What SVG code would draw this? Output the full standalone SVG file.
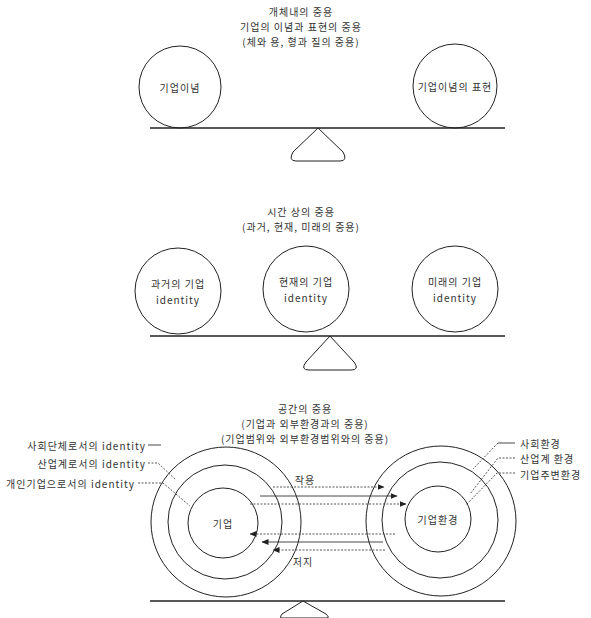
<svg xmlns="http://www.w3.org/2000/svg" width="591" height="618" viewBox="0 0 591 618">
<defs>
<style>
text{font-family:"Noto Sans CJK KR","Noto Sans",sans-serif;font-size:10px;letter-spacing:1px;fill:#333;text-anchor:middle;dominant-baseline:central}
.s{text-anchor:start}.e{text-anchor:end}
.c{fill:none;stroke:#222;stroke-width:1}
.b{stroke:#222;stroke-width:1.6;fill:none}
.f{fill:none;stroke:#222;stroke-width:1}
.d{stroke:#444;stroke-width:0.9;stroke-dasharray:2 1.5;fill:none}
.l{stroke:#333;stroke-width:0.9;fill:none}
</style>
<marker id="ah" markerWidth="7" markerHeight="6" refX="6.5" refY="3" orient="auto" markerUnits="userSpaceOnUse"><path d="M0,0 L7,3 L0,6 Z" fill="#222"/></marker>
</defs>
<rect width="591" height="618" fill="#fff"/>

<g id="title1">
<text x="301" y="11">개체내의 중용</text>
<text x="301" y="26">기업의 이념과 표현의 중용</text>
<text x="301" y="41">(체와 용, 형과 질의 중용)</text>
</g>
<g id="node-idea"><circle class="c" cx="180" cy="87" r="41"/><text x="180" y="87">기업이념</text></g>
<g id="node-expression"><circle class="c" cx="455" cy="86" r="42"/><text x="455" y="86">기업이념의 표현</text></g>
<g id="seesaw1">
<line class="b" x1="150" y1="128" x2="505" y2="128"/>
<path class="f" d="M318,128 L293,152 Q288,161 296,161 L340,161 Q348,161 343,152 Z"/>
</g>

<g id="title2">
<text x="301" y="211">시간 상의 중용</text>
<text x="301" y="226">(과거, 현재, 미래의 중용)</text>
</g>
<g id="node-past"><circle class="c" cx="178" cy="291" r="43"/><text x="178" y="283">과거의 기업</text><text x="178" y="299">identity</text></g>
<g id="node-present"><circle class="c" cx="306" cy="289" r="43"/><text x="306" y="281">현재의 기업</text><text x="306" y="297">identity</text></g>
<g id="node-future"><circle class="c" cx="455" cy="289" r="43"/><text x="455" y="281">미래의 기업</text><text x="455" y="297">identity</text></g>
<g id="seesaw2">
<line class="b" x1="150" y1="336" x2="505" y2="336"/>
<path class="f" d="M330,336 L306,362 Q300,370 309,370 L351,370 Q360,370 354,362 Z"/>
</g>

<g id="title3">
<text x="305" y="408">공간의 중용</text>
<text x="305" y="423">(기업과 외부환경과의 중용)</text>
<text x="305" y="438">(기업범위와 외부환경범위와의 중용)</text>
</g>
<g id="node-company">
<circle class="c" cx="226" cy="522" r="75"/>
<circle class="c" cx="225" cy="522" r="57"/>
<circle class="c" cx="223" cy="523" r="35"/>
<text x="223" y="523">기업</text>
</g>
<g id="node-environment">
<circle class="c" cx="441" cy="521" r="75"/>
<circle class="c" cx="440" cy="520" r="58"/>
<circle class="c" cx="438" cy="519" r="33"/>
<text x="438" y="519">기업환경</text>
</g>
<g id="labels-left">
<text class="e" x="146" y="445">사회단체로서의 identity</text>
<text class="e" x="146" y="463">산업계로서의 identity</text>
<text class="e" x="135" y="483">개인기업으로서의 identity</text>
</g>
<g id="labels-right">
<text class="s" x="520" y="443">사회환경</text>
<text class="s" x="520" y="458">산업계 환경</text>
<text class="s" x="520" y="474">기업주변환경</text>
</g>
<g id="connectors">
<line class="l" x1="148" y1="445" x2="161" y2="445"/>
<path class="d" d="M148,463 L158,463 L176,480"/>
<path class="d" d="M138,483 L163,483 L190,506"/>
<path class="l" d="M515,443 L498,443"/>
<path class="d" d="M498,443 L473,469"/>
<path class="d" d="M515,458 L498,458 L470,494"/>
<path class="d" d="M515,473 L497,473 L466,505"/>
<line class="d" x1="273" y1="487" x2="384" y2="487" marker-end="url(#ah)"/>
<line class="l" x1="260" y1="496" x2="397" y2="496" marker-end="url(#ah)"/>
<line class="d" x1="250" y1="504" x2="406" y2="504" marker-end="url(#ah)"/>
<line class="d" x1="395" y1="534" x2="250" y2="534" marker-end="url(#ah)"/>
<line class="l" x1="383" y1="542" x2="262" y2="542" marker-end="url(#ah)"/>
<line class="d" x1="385" y1="550" x2="273" y2="550" marker-end="url(#ah)"/>
</g>
<text x="305" y="479">작용</text>
<text x="303" y="561">저지</text>
<g id="seesaw3">
<line class="b" x1="150" y1="601" x2="505" y2="601"/>
<path class="f" d="M303,601 L282,614 Q279,618 282,618 L327,618 Q330,618 326,614 Z"/>
</g>
</svg>
